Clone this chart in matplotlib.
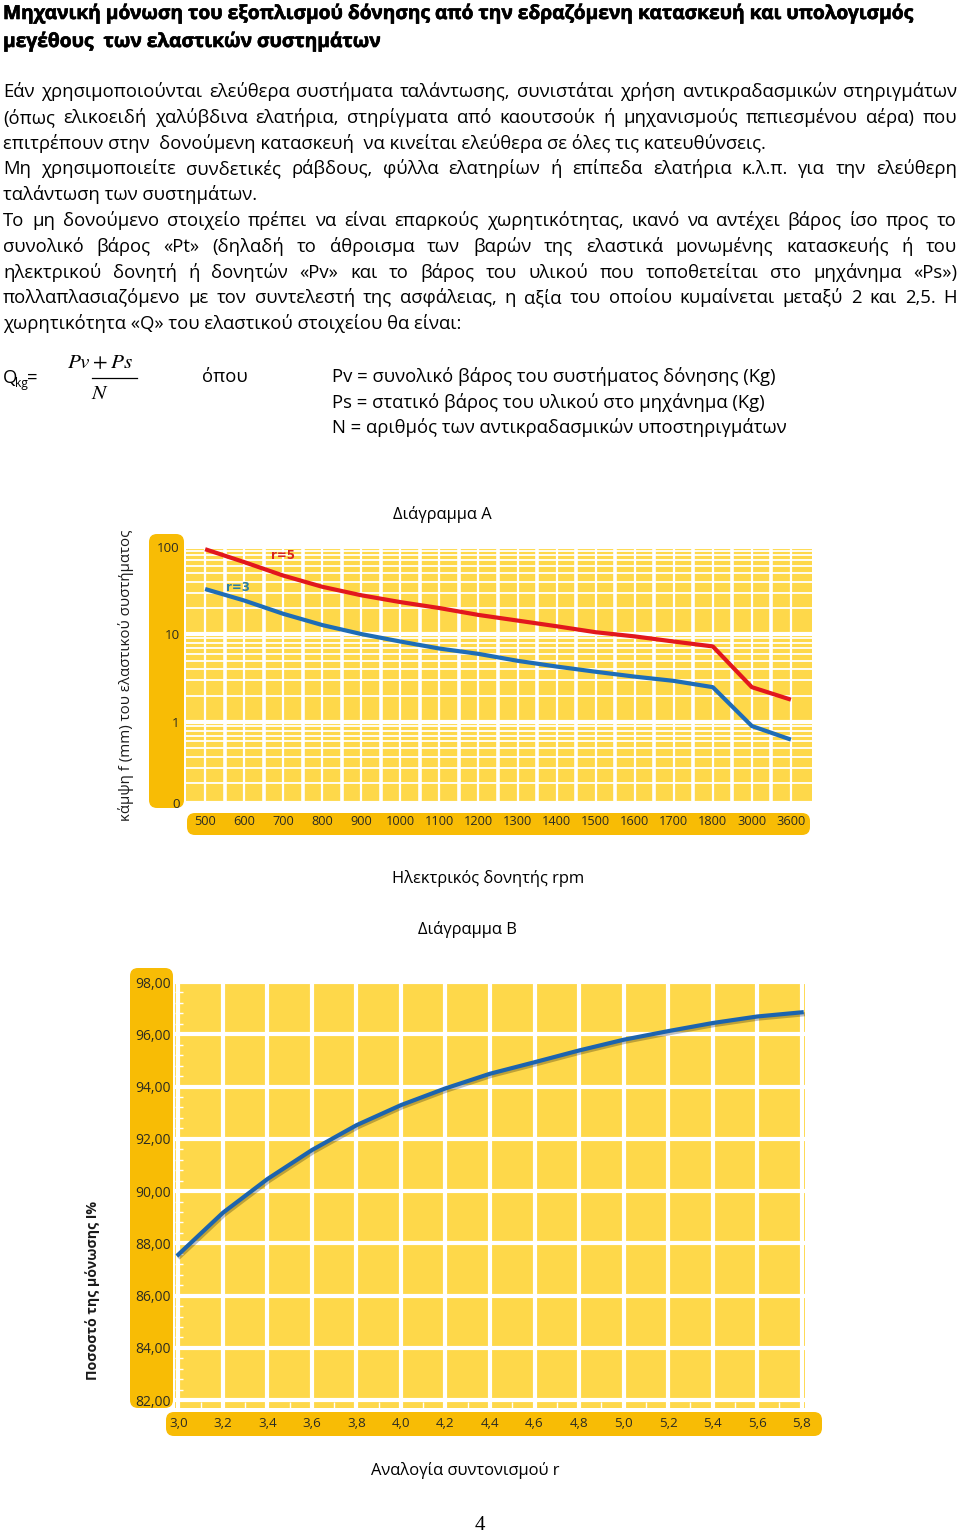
import matplotlib
matplotlib.use("Agg")
import matplotlib.pyplot as plt
import matplotlib.patheffects as pe
from matplotlib.patches import FancyBboxPatch
from matplotlib.ticker import LogLocator, NullFormatter, MultipleLocator
import numpy as np

plt.rcParams['mathtext.fontset'] = 'stix'

W, H = 960, 1539
BODY = 'Open Sans'
NARROW = ['Liberation Sans Narrow', 'Open Sans']
YELLOW = '#FED84A'
STRIP = '#F8BC05'
DARK = '#2b2b22'

# ---- page text
title_lines = ["Μηχανική μόνωση του εξοπλισμού δόνησης από την εδραζόμενη κατασκευή και υπολογισμός",
               "μεγέθους  των ελαστικών συστημάτων"]

# (text, justified?)
body_lines = [
    ("Εάν χρησιμοποιούνται ελεύθερα συστήματα ταλάντωσης, συνιστάται χρήση αντικραδασμικών στηριγμάτων", True),
    ("(όπως ελικοειδή χαλύβδινα ελατήρια, στηρίγματα από καουτσούκ ή μηχανισμούς πεπιεσμένου αέρα) που", True),
    ("επιτρέπουν στην  δονούμενη κατασκευή  να κινείται ελεύθερα σε όλες τις κατευθύνσεις.", False),
    ("Μη χρησιμοποιείτε συνδετικές ράβδους, φύλλα ελατηρίων ή επίπεδα ελατήρια κ.λ.π. για την ελεύθερη", True),
    ("ταλάντωση των συστημάτων.", False),
    ("Το μη δονούμενο στοιχείο πρέπει να είναι επαρκούς χωρητικότητας, ικανό  να αντέχει βάρος ίσο προς το", True),
    ("συνολικό βάρος «Pt» (δηλαδή το άθροισμα των βαρών  της ελαστικά μονωμένης κατασκευής  ή του", True),
    ("ηλεκτρικού δονητή ή δονητών  «Pv» και το βάρος του υλικού που τοποθετείται στο μηχάνημα «Ps»)", True),
    ("πολλαπλασιαζόμενο με τον συντελεστή της ασφάλειας, η αξία του οποίου κυμαίνεται μεταξύ 2 και 2,5. Η", True),
    ("χωρητικότητα «Q» του ελαστικού στοιχείου θα είναι:", False),
]

definitions = ["Pv = συνολικό βάρος του συστήματος δόνησης (Kg)",
               "Ps = στατικό βάρος του υλικού στο μηχάνημα (Kg)",
               "N = αριθμός των αντικραδασμικών υποστηριγμάτων"]

# ---- chart A data (log scale deflection vs motor rpm)
rpm_labels = ['500', '600', '700', '800', '900', '1000', '1100', '1200', '1300',
              '1400', '1500', '1600', '1700', '1800', '3000', '3600']
defl_r5 = [94, 67, 47, 35, 28, 23.4, 20, 16.7, 14.4, 12.4, 10.6, 9.5, 8.3, 7.3, 2.5, 1.8]
defl_r3 = [33, 24.4, 17.2, 12.8, 10.1, 8.3, 6.9, 6.0, 5.0, 4.3, 3.75, 3.3, 2.95, 2.5, 0.9, 0.63]
a_ytick_vals = [100, 10, 1, 0.12]
a_ytick_labels = ['100', '10', '1', '0']

# ---- chart B data (isolation % vs tuning ratio)
ratio_r = [3.0, 3.2, 3.4, 3.6, 3.8, 4.0, 4.2, 4.4, 4.6, 4.8, 5.0, 5.2, 5.4, 5.6, 5.8]
isolation = [87.57, 89.17, 90.46, 91.57, 92.52, 93.29, 93.93, 94.49, 94.93, 95.38,
             95.79, 96.12, 96.43, 96.68, 96.84]
b_ytick_vals = [82, 84, 86, 88, 90, 92, 94, 96, 98]

fig = plt.figure(figsize=(W / 100, H / 100), dpi=100)
fig.patch.set_facecolor('white')
bg = fig.add_axes([0, 0, 1, 1])
bg.set_xlim(0, W)
bg.set_ylim(H, 0)
bg.axis('off')
renderer = fig.canvas.get_renderer()


def fit_size(text, width, **kw):
    t = bg.text(0, 0, text, fontsize=10, **kw)
    w = t.get_window_extent(renderer).width
    t.remove()
    return 10 * width / w


def put_line(text, y, justify, size, x0=3, x1=957, **kw):
    if not justify:
        bg.text(x0, y, text, va='baseline', ha='left', fontsize=size, **kw)
        return
    words = text.split()
    arts = [bg.text(0, y, w, va='baseline', ha='left', fontsize=size, **kw) for w in words]
    widths = [a.get_window_extent(renderer).width for a in arts]
    gap = (x1 - x0 - sum(widths)) / (len(words) - 1)
    x = x0
    for a, w in zip(arts, widths):
        a.set_x(x)
        x += w + gap


def px_axes(x0, y0, x1, y1):
    return fig.add_axes([x0 / W, 1 - y1 / H, (x1 - x0) / W, (y1 - y0) / H])


def strip(x0, y0, x1, y1, r=8):
    bg.add_patch(FancyBboxPatch((x0, y0), x1 - x0, y1 - y0,
                                boxstyle=f'round,pad=0,rounding_size={r}',
                                fc=STRIP, ec='none'))


# title (narrow bold face, slightly thickened)
tfont = dict(family=NARROW, weight='bold', style='normal')
tsize = fit_size(title_lines[0], 912, **tfont)
thick = [pe.withStroke(linewidth=0.45, foreground='black')]
put_line(title_lines[0], 19, False, tsize, color='black', path_effects=thick, **tfont)
put_line(title_lines[1], 47, False, tsize, color='black', path_effects=thick, **tfont)

# body
bsize = fit_size(body_lines[2][0], 765, family=BODY)
csize = bsize * 0.89
for i, (txt, just) in enumerate(body_lines):
    put_line(txt, 97 + i * 25.8, just, bsize, family=BODY, color='black')

# formula
bg.text(3, 383, "Q", fontsize=bsize, family=BODY, va='baseline')
bg.text(15.5, 387, "kg", fontsize=bsize * 0.65, family=BODY, va='baseline')
bg.text(27, 383, "=", fontsize=bsize, family=BODY, va='baseline')
bg.text(100, 368, r'$Pv + Ps$', fontsize=bsize * 1.15, ha='center', va='baseline')
bg.plot([92, 137], [378, 378], color='black', lw=0.9)
bg.text(100, 399, r'$N$', fontsize=bsize * 1.15, ha='center', va='baseline')
bg.text(202, 382, "όπου", fontsize=bsize, family=BODY, va='baseline')
for i, d in enumerate(definitions):
    bg.text(332, 382 + i * 25.5, d, fontsize=bsize, family=BODY, va='baseline')

# ---------------- chart A
bg.text(442, 519, "Διάγραμμα Α", fontsize=csize, family=BODY, ha='center', va='baseline')
strip(149, 534, 184, 808)
strip(187, 813, 810, 835)
axA = px_axes(186, 545, 812, 803)
axA.set_zorder(2)
axA.set_facecolor(YELLOW)
x_idx = np.arange(len(rpm_labels))
axA.set_yscale('log')
axA.set_xlim(-0.49, 15.54)
axA.set_ylim(0.119, 105)
axA.set_xticks(x_idx)
axA.set_xticklabels(rpm_labels)
axA.set_xticks(x_idx[:-1] + 0.5, minor=True)
axA.set_yticks(a_ytick_vals)
axA.set_yticklabels(a_ytick_labels)
axA.yaxis.set_minor_locator(LogLocator(base=10, subs=np.arange(2, 10)))
axA.yaxis.set_minor_formatter(NullFormatter())
axA.tick_params(which='both', length=0)
axA.tick_params(axis='x', pad=8.8, labelsize=9.2, labelcolor=DARK)
axA.tick_params(axis='y', pad=4.5, labelsize=9.6, labelcolor=DARK)
for lab in axA.get_xticklabels() + axA.get_yticklabels():
    lab.set_family(NARROW)
axA.grid(which='major', axis='x', color='white', lw=1.6)
axA.grid(which='minor', axis='x', color='white', lw=2.6)
axA.grid(which='major', axis='y', color='white', lw=3)
axA.grid(which='minor', axis='y', color='white', lw=1.3)
axA.set_axisbelow(True)
for s in axA.spines.values():
    s.set_visible(False)
axA.plot(x_idx, defl_r5, color='#E2171D', lw=3, solid_capstyle='butt')
axA.plot(x_idx, defl_r3, color='#1E6DB6', lw=3, solid_capstyle='butt')
axA.text(2, 80, "r=5", color='#D9231C', fontsize=8.5, weight='bold', ha='center', va='center')
axA.text(0.85, 34, "r=3", color='#2C7FA0', fontsize=8.5, weight='bold', ha='center', va='center')

ylabA = "κάμψη f (mm) του ελαστικού συστήματος"
bg.text(126, 675, ylabA, rotation=90, fontsize=fit_size(ylabA, 290, family=BODY),
        family=BODY, ha='center', va='center', color='#1a1a1a')
bg.text(488, 883, "Ηλεκτρικός δονητής rpm", fontsize=csize, family=BODY, ha='center', va='baseline')

# ---------------- chart B
bg.text(467, 934, "Διάγραμμα Β", fontsize=csize, family=BODY, ha='center', va='baseline')
strip(130, 968, 173, 1408)
strip(166, 1412, 822, 1436)
axB = px_axes(175, 982, 805, 1408)
axB.set_zorder(2)
axB.set_facecolor(YELLOW)
axB.set_xlim(2.985, 5.815)
axB.set_ylim(81.7, 98)
axB.set_xticks(ratio_r)
axB.set_xticklabels([f"{v:.1f}".replace('.', ',') for v in ratio_r])
axB.set_yticks(b_ytick_vals)
axB.set_yticklabels([f"{v:.2f}".replace('.', ',') for v in b_ytick_vals])
axB.yaxis.set_minor_locator(MultipleLocator(0.4))
axB.xaxis.set_minor_locator(MultipleLocator(0.1))
axB.tick_params(which='major', length=0)
axB.tick_params(axis='x', pad=6.5, labelsize=9.6, labelcolor=DARK)
axB.tick_params(axis='y', pad=3, labelsize=10, labelcolor=DARK)
axB.tick_params(which='minor', axis='y', direction='in', length=6, width=1, color='white')
axB.tick_params(which='minor', axis='x', direction='in', length=4, width=1, color='white')
for lab in axB.get_xticklabels() + axB.get_yticklabels():
    lab.set_family(NARROW)
axB.grid(which='major', color='white', lw=3)
axB.grid(which='minor', visible=False)
axB.set_axisbelow(True)
for s in axB.spines.values():
    s.set_visible(False)
axB.plot(ratio_r, isolation, color='#1C64AE', lw=3,
         path_effects=[pe.SimpleLineShadow(offset=(1, -1.5), alpha=0.25), pe.Normal()])

ylabB = "Ποσοστό της μόνωσης Ι%"
bg.text(93, 1290, ylabB, rotation=90, fontsize=fit_size(ylabB, 180, family=BODY, weight='bold'),
        family=BODY, weight='bold', ha='center', va='center', color='#1a1a1a')
bg.text(465, 1475, "Αναλογία συντονισμού r", fontsize=csize, family=BODY, ha='center', va='baseline')

bg.text(480, 1526, "4", fontsize=15, family='Liberation Serif', ha='center', va='center')

fig.savefig('out.png', dpi=100, facecolor='white')
